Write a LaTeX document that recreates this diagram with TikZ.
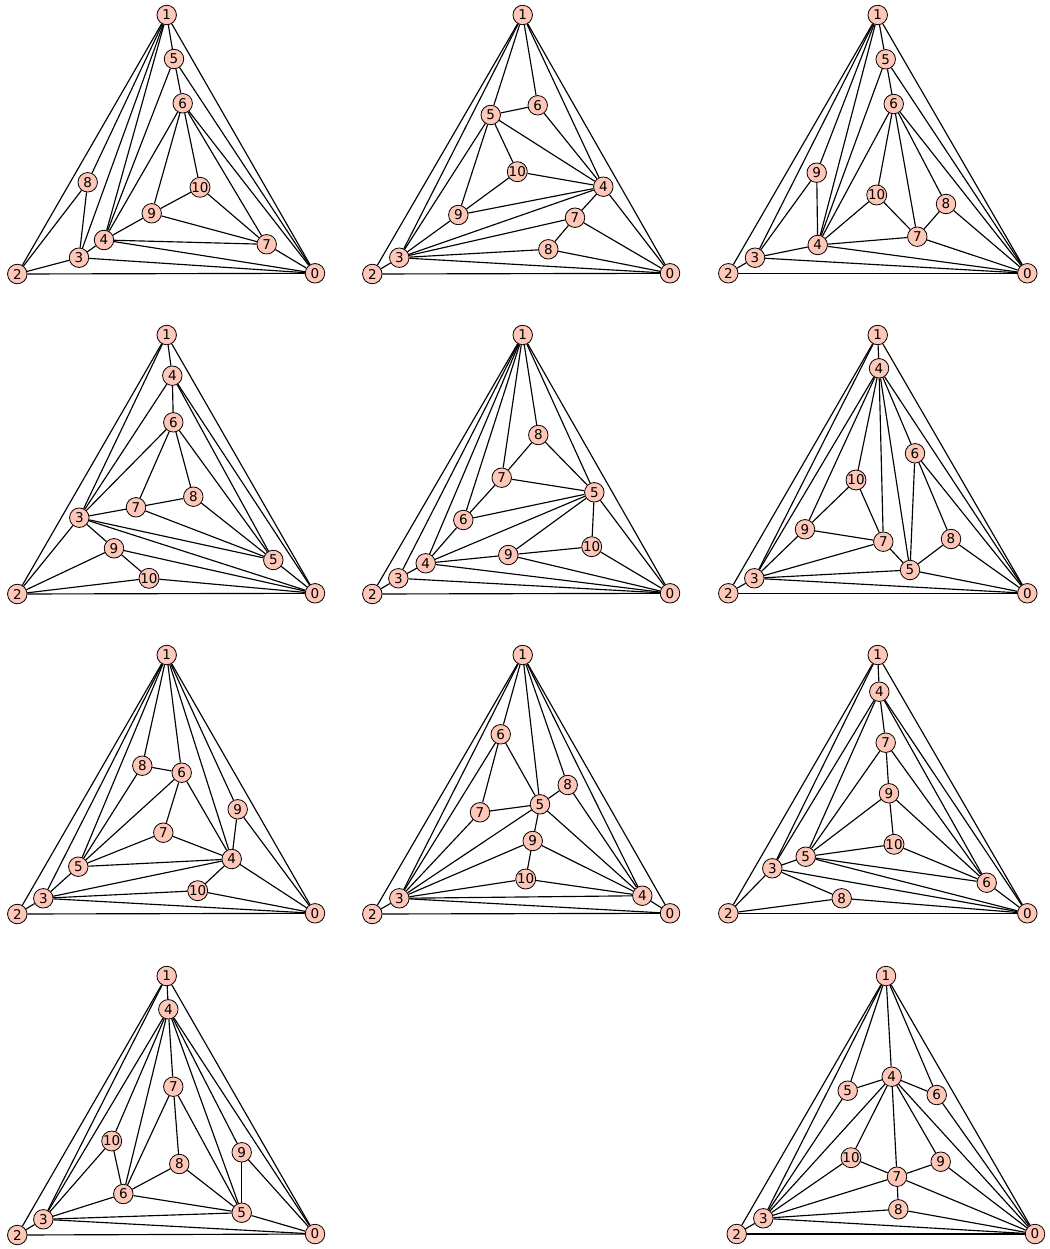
\documentclass[tikz,border=0pt]{standalone}
\usepackage{fontspec}
\newfontfamily\dvs{DejaVu Sans}
\definecolor{vfill}{HTML}{FEC7B8}
\begin{document}
\begin{tikzpicture}[x=1pt,y=-1pt,
  v/.style={circle,draw=black,fill=vfill,line width=0.8pt,inner sep=0pt,minimum size=19.5pt,font=\dvs\fontsize{13.5}{13.5}\selectfont},
  edge/.style={line width=1.15pt,black}]
\useasboundingbox (0,0) rectangle (1049,1249);
% ---------- Panel A ----------
\foreach \n/\x/\y in {1/166.7/15,5/174/59,6/182.7/103.3,8/87.7/182.3,10/200/187.3,9/151.7/213.3,4/104/240,7/266.7/244.3,3/79/257.7,2/17.3/274,0/315/273.3}
  \node[v] (A\n) at (\x,\y) {\n};
\foreach \u/\w in {2/0,1/2,1/0,1/5,5/6,1/8,1/3,1/4,5/4,6/4,5/0,6/0,6/7,6/10,6/9,10/9,10/7,9/4,9/7,4/7,4/0,4/3,3/0,3/2,7/0,8/2,8/3}
  \draw[edge] (A\u) -- (A\w);
% ---------- Panel B ----------
\foreach \n/\x/\y in {1/522.7/15,6/537.7/105.3,5/490.7/115,10/517.3/171.7,4/603.3/186.7,9/458.3/215,7/575/217.7,8/548.3/249.3,3/399.3/257.7,2/372.3/274,0/670/273.3}
  \node[v] (B\n) at (\x,\y) {\n};
\foreach \u/\w in {2/0,1/2,1/0,3/2,1/3,1/5,1/6,1/4,5/6,6/4,5/4,5/10,10/4,5/9,5/3,9/3,9/10,9/4,3/4,3/7,3/8,3/0,4/7,4/0,7/8,7/0,8/0}
  \draw[edge] (B\u) -- (B\w);
% ---------- Panel C ----------
\foreach \n/\x/\y in {1/877.7/15,5/885.7/59.3,6/893.7/104,9/816.7/172.7,10/876.7/195,8/946/204,7/917.3/236.7,4/817.7/245,3/755/257.7,2/728.3/273.3,0/1027.3/273.3}
  \node[v] (C\n) at (\x,\y) {\n};
\foreach \u/\w in {2/0,1/2,1/0,1/5,5/6,2/3,1/3,1/9,9/3,9/4,1/4,5/4,6/4,6/10,6/7,6/8,6/0,5/0,10/4,10/7,8/7,8/0,7/0,7/4,4/0,4/3,3/0}
  \draw[edge] (C\u) -- (C\w);
% ---------- Panel D ----------
\foreach \n/\x/\y in {1/166.7/335,4/172.3/375.7,6/173.3/422.3,8/193.3/496.7,7/136/507.3,3/79.3/517.7,9/114/548.3,5/273.3/560,10/149/578.3,2/17.3/594,0/315/593.3}
  \node[v] (D\n) at (\x,\y) {\n};
\foreach \u/\w in {2/0,1/2,1/0,1/4,1/3,4/3,4/6,4/5,4/0,6/3,6/7,6/8,6/5,7/3,7/8,7/5,8/5,3/5,3/0,3/9,3/2,9/2,9/10,9/0,10/2,10/0,5/0}
  \draw[edge] (D\u) -- (D\w);
% ---------- Panel E ----------
\foreach \n/\x/\y in {1/522.7/335,8/538.3/435,7/501.7/477.7,5/594.3/492.3,6/463.3/520,10/591.7/546.7,9/508.3/555,4/425.7/563.3,3/398.3/578.3,2/372.3/594,0/670/593.3}
  \node[v] (E\n) at (\x,\y) {\n};
\foreach \u/\w in {2/0,1/2,1/0,1/3,1/4,1/6,1/7,1/8,1/5,2/3,3/4,3/0,4/6,4/5,4/9,4/0,6/7,6/5,7/8,7/5,8/5,5/9,5/10,5/0,9/10,9/0,10/0}
  \draw[edge] (E\u) -- (E\w);
% ---------- Panel F ----------
\foreach \n/\x/\y in {1/877.7/335,4/879/368.3,6/915/453.3,10/856/480,9/805/529.3,8/951/539,7/883.3/541.7,5/910/570,3/754.3/578.3,2/728.3/593.3,0/1027.3/593.3}
  \node[v] (F\n) at (\x,\y) {\n};
\foreach \u/\w in {2/0,1/2,1/0,1/4,1/3,2/3,4/3,4/9,4/10,4/7,4/5,4/6,4/0,6/5,6/8,6/0,10/9,10/7,9/7,9/3,7/3,7/5,5/3,5/8,5/0,8/0,3/0}
  \draw[edge] (F\u) -- (F\w);
% ---------- Panel G ----------
\foreach \n/\x/\y in {1/166.7/655,8/142.3/765.7,6/181.7/772.7,9/237.7/809.3,7/163.3/832.7,4/231.7/859,5/78.3/866.7,10/197.7/890.7,3/43.3/898.3,2/17.3/914,0/315/913.3}
  \node[v] (G\n) at (\x,\y) {\n};
\foreach \u/\w in {2/0,1/2,1/0,1/3,1/5,1/8,1/6,1/4,1/9,2/3,3/5,3/4,3/10,3/0,5/8,5/6,5/7,5/4,8/6,6/7,6/4,7/4,9/4,9/0,4/10,4/0,10/0}
  \draw[edge] (G\u) -- (G\w);
% ---------- Panel H ----------
\foreach \n/\x/\y in {1/522.7/655,6/500.7/734.3,8/567.7/785,5/540/804.3,7/480/812.3,9/532.7/841,10/525.7/879,4/642.3/895.7,3/399.3/898.3,2/372.3/914,0/670/913.3}
  \node[v] (H\n) at (\x,\y) {\n};
\foreach \u/\w in {2/0,1/2,1/0,1/3,1/6,1/5,1/8,1/4,2/3,6/3,6/7,6/5,7/5,7/3,5/8,5/3,5/9,5/4,8/4,9/3,9/10,9/4,10/3,10/4,3/4,3/0,4/0}
  \draw[edge] (H\u) -- (H\w);
% ---------- Panel I ----------
\foreach \n/\x/\y in {1/877.7/655,4/879.3/691.7,7/885.7/742.7,9/889/793.3,10/894/844.3,5/805.7/856.7,3/772.3/868.3,6/986.7/882.7,8/841.7/898.3,2/728.3/913.3,0/1027.3/913.3}
  \node[v] (I\n) at (\x,\y) {\n};
\foreach \u/\w in {2/0,1/2,1/0,1/4,1/3,2/3,2/8,4/3,4/5,4/7,4/6,4/0,7/5,7/9,7/6,9/5,9/10,9/6,10/5,10/6,5/3,5/6,5/0,3/8,3/0,8/0,6/0}
  \draw[edge] (I\u) -- (I\w);
% ---------- Panel J ----------
\foreach \n/\x/\y in {1/166.7/976,4/168.3/1009.3,7/173.3/1086.7,10/111.7/1141,9/241.7/1152.3,8/179.3/1164,6/123.3/1194,5/241.7/1212.7,3/43.3/1219.3,2/17.3/1235,0/315/1234}
  \node[v] (J\n) at (\x,\y) {\n};
\foreach \u/\w in {2/0,1/2,1/0,1/4,1/3,2/3,4/3,4/10,4/6,4/7,4/5,4/9,4/0,7/6,7/8,7/5,10/3,10/6,8/6,8/5,6/3,6/5,9/5,9/0,5/3,5/0,3/0}
  \draw[edge] (J\u) -- (J\w);
% ---------- Panel K ----------
\foreach \n/\x/\y in {1/886/976,4/891.7/1076.7,5/847.7/1090.7,6/936.7/1095,10/851/1157.7,9/940.7/1161.7,7/897/1176.7,8/898.3/1209.3,3/763.3/1218.3,2/736.7/1234,0/1035/1234}
  \node[v] (K\n) at (\x,\y) {\n};
\foreach \u/\w in {2/0,1/2,1/0,1/3,1/5,1/4,1/6,2/3,5/4,5/3,4/6,4/3,4/10,4/7,4/9,4/0,6/0,10/3,10/7,9/7,9/0,7/3,7/8,7/0,8/3,8/0,3/0}
  \draw[edge] (K\u) -- (K\w);
\end{tikzpicture}
\end{document}
